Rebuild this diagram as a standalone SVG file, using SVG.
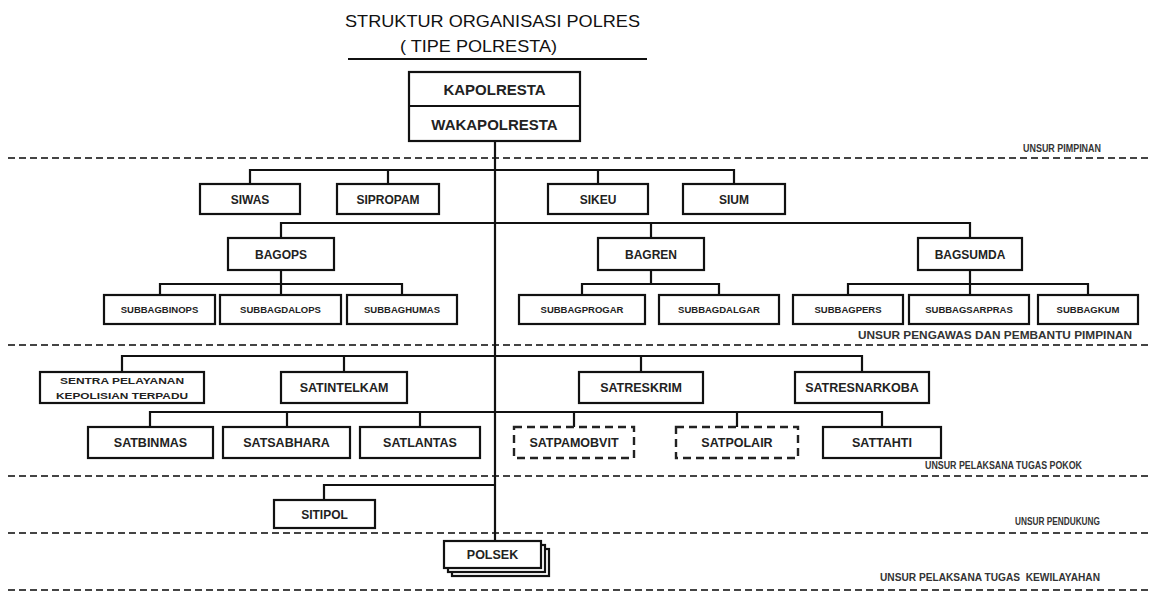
<svg xmlns="http://www.w3.org/2000/svg" width="1150" height="598" viewBox="0 0 1150 598">
<style>
.bg{fill:#fff}
.box{fill:#fff;stroke:#111;stroke-width:2.2}
.dbox{fill:#fff;stroke:#222;stroke-width:2.4;stroke-dasharray:8 5}
.ln{fill:none;stroke:#111;stroke-width:2.2}
.sep{fill:none;stroke:#444;stroke-width:2;stroke-dasharray:7 4}
text{font-family:"Liberation Sans",Arial,sans-serif;fill:#222;text-anchor:middle}
.ttl{font-size:17px;text-anchor:start;fill:#111}
.t1{font-size:15px;font-weight:bold}
.t2{font-size:12px;font-weight:bold}
.t3{font-size:9.5px;font-weight:bold}
.t4{font-size:12.5px;font-weight:bold}
.t5{font-size:9.5px;font-weight:bold}
.lg{font-size:10.5px;font-weight:bold;text-anchor:start;fill:#333}
</style>
<rect class="bg" x="0" y="0" width="1150" height="598"/>

<g id="title">
<text class="ttl" x="345" y="27" textLength="295" lengthAdjust="spacingAndGlyphs">STRUKTUR ORGANISASI POLRES</text>
<text class="ttl" x="400" y="52" textLength="157" lengthAdjust="spacingAndGlyphs">( TIPE POLRESTA)</text>
<line x1="348" y1="59" x2="647" y2="59" stroke="#111" stroke-width="2"/>
</g>

<g id="separators">
<line class="sep" x1="8" y1="158" x2="1150" y2="158"/>
<line class="sep" x1="8" y1="345" x2="1150" y2="345"/>
<line class="sep" x1="8" y1="476" x2="1150" y2="476"/>
<line class="sep" x1="8" y1="533" x2="1150" y2="533"/>
<line class="sep" x1="8" y1="590" x2="1150" y2="590"/>
<text class="lg" x="1023" y="152" textLength="78" lengthAdjust="spacingAndGlyphs">UNSUR PIMPINAN</text>
<text class="lg" x="858" y="339" textLength="274" lengthAdjust="spacingAndGlyphs">UNSUR PENGAWAS DAN PEMBANTU PIMPINAN</text>
<text class="lg" x="925" y="469" textLength="157" lengthAdjust="spacingAndGlyphs">UNSUR PELAKSANA TUGAS POKOK</text>
<text class="lg" x="1015" y="525" textLength="85" lengthAdjust="spacingAndGlyphs">UNSUR PENDUKUNG</text>
<text class="lg" x="880" y="581" textLength="220" lengthAdjust="spacingAndGlyphs" xml:space="preserve">UNSUR PELAKSANA TUGAS  KEWILAYAHAN</text>
</g>

<g id="connectors">
<line class="ln" x1="495" y1="141" x2="495" y2="541"/>
<polyline class="ln" points="250,184 250,170 734,170 734,184"/>
<line class="ln" x1="388" y1="170" x2="388" y2="184"/>
<line class="ln" x1="598" y1="170" x2="598" y2="184"/>
<polyline class="ln" points="281,238 281,223 970,223 970,238"/>
<line class="ln" x1="651" y1="223" x2="651" y2="238"/>
<line class="ln" x1="281" y1="270" x2="281" y2="284"/>
<polyline class="ln" points="160,295 160,284 402,284 402,295"/>
<line class="ln" x1="281" y1="284" x2="281" y2="295"/>
<line class="ln" x1="651" y1="270" x2="651" y2="284"/>
<polyline class="ln" points="582,295 582,284 719,284 719,295"/>
<line class="ln" x1="970" y1="270" x2="970" y2="295"/>
<polyline class="ln" points="848,295 848,284 1088,284 1088,295"/>
<polyline class="ln" points="122,372 122,356 862,356 862,372"/>
<line class="ln" x1="344" y1="356" x2="344" y2="372"/>
<line class="ln" x1="641" y1="356" x2="641" y2="372"/>
<polyline class="ln" points="150,427 150,412 882,412 882,427"/>
<line class="ln" x1="287" y1="412" x2="287" y2="427"/>
<line class="ln" x1="420" y1="412" x2="420" y2="427"/>
<line class="ln" x1="574" y1="412" x2="574" y2="427"/>
<line class="ln" x1="737" y1="412" x2="737" y2="427"/>
<polyline class="ln" points="324,500 324,485 495,485"/>
</g>

<g id="kapolresta">
<rect class="box" x="409" y="72" width="171" height="69"/>
<line class="ln" x1="409" y1="106" x2="580" y2="106"/>
<text class="t1" x="494.5" y="95">KAPOLRESTA</text>
<text class="t1" x="494.5" y="130">WAKAPOLRESTA</text>
</g>

<g id="siwas"><rect class="box" x="200" y="184" width="100" height="30"/><text class="t2" x="250" y="203.5">SIWAS</text></g>
<g id="sipropam"><rect class="box" x="337" y="184" width="102" height="30"/><text class="t2" x="388" y="203.5">SIPROPAM</text></g>
<g id="sikeu"><rect class="box" x="548" y="184" width="100" height="30"/><text class="t2" x="598" y="203.5">SIKEU</text></g>
<g id="sium"><rect class="box" x="683" y="184" width="102" height="30"/><text class="t2" x="734" y="203.5">SIUM</text></g>

<g id="bagops"><rect class="box" x="228" y="238" width="106" height="32"/><text class="t2" x="281" y="258.5">BAGOPS</text></g>
<g id="bagren"><rect class="box" x="598" y="238" width="106" height="32"/><text class="t2" x="651" y="258.5">BAGREN</text></g>
<g id="bagsumda"><rect class="box" x="918" y="238" width="104" height="32"/><text class="t2" x="970" y="258.5">BAGSUMDA</text></g>

<g id="subbagbinops"><rect class="box" x="104" y="295" width="111" height="29"/><text class="t3" x="159.5" y="313">SUBBAGBINOPS</text></g>
<g id="subbagdalops"><rect class="box" x="220" y="295" width="121" height="29"/><text class="t3" x="280.5" y="313">SUBBAGDALOPS</text></g>
<g id="subbaghumas"><rect class="box" x="347" y="295" width="110" height="29"/><text class="t3" x="402" y="313">SUBBAGHUMAS</text></g>
<g id="subbagprogar"><rect class="box" x="519" y="295" width="126" height="29"/><text class="t3" x="582" y="313">SUBBAGPROGAR</text></g>
<g id="subbagdalgar"><rect class="box" x="659" y="295" width="120" height="29"/><text class="t3" x="719" y="313">SUBBAGDALGAR</text></g>
<g id="subbagpers"><rect class="box" x="793" y="295" width="110" height="29"/><text class="t3" x="848" y="313">SUBBAGPERS</text></g>
<g id="subbagsarpras"><rect class="box" x="909" y="295" width="120" height="29"/><text class="t3" x="969" y="313">SUBBAGSARPRAS</text></g>
<g id="subbagkum"><rect class="box" x="1038" y="295" width="100" height="29"/><text class="t3" x="1088" y="313">SUBBAGKUM</text></g>

<g id="sentra"><rect class="box" x="40" y="372" width="164" height="31"/>
<text class="t5" x="122" y="384" textLength="124" lengthAdjust="spacingAndGlyphs">SENTRA PELAYANAN</text>
<text class="t5" x="122" y="399" textLength="132" lengthAdjust="spacingAndGlyphs">KEPOLISIAN TERPADU</text></g>
<g id="satintelkam"><rect class="box" x="281" y="372" width="126" height="31"/><text class="t4" x="344" y="392">SATINTELKAM</text></g>
<g id="satreskrim"><rect class="box" x="579" y="372" width="124" height="31"/><text class="t4" x="641" y="392">SATRESKRIM</text></g>
<g id="satresnarkoba"><rect class="box" x="795" y="372" width="134" height="31"/><text class="t4" x="862" y="392">SATRESNARKOBA</text></g>

<g id="satbinmas"><rect class="box" x="88" y="427" width="125" height="31"/><text class="t4" x="150.5" y="447">SATBINMAS</text></g>
<g id="satsabhara"><rect class="box" x="223" y="427" width="127" height="31"/><text class="t4" x="286.5" y="447">SATSABHARA</text></g>
<g id="satlantas"><rect class="box" x="360" y="427" width="120" height="31"/><text class="t4" x="420" y="447">SATLANTAS</text></g>
<g id="satpamobvit"><rect class="dbox" x="514" y="427" width="120" height="31"/><text class="t4" x="574" y="447">SATPAMOBVIT</text></g>
<g id="satpolair"><rect class="dbox" x="676" y="427" width="122" height="31"/><text class="t4" x="737" y="447">SATPOLAIR</text></g>
<g id="sattahti"><rect class="box" x="823" y="427" width="118" height="31"/><text class="t4" x="882" y="447">SATTAHTI</text></g>

<g id="sitipol"><rect class="box" x="274" y="500" width="101" height="28"/><text class="t2" x="324.5" y="518.5">SITIPOL</text></g>

<g id="polsek">
<rect class="box" x="452" y="549" width="97" height="27"/>
<rect class="box" x="448" y="545" width="97" height="27"/>
<rect class="box" x="444" y="541" width="97" height="27"/>
<text class="t4" x="492.5" y="559">POLSEK</text>
</g>
</svg>
